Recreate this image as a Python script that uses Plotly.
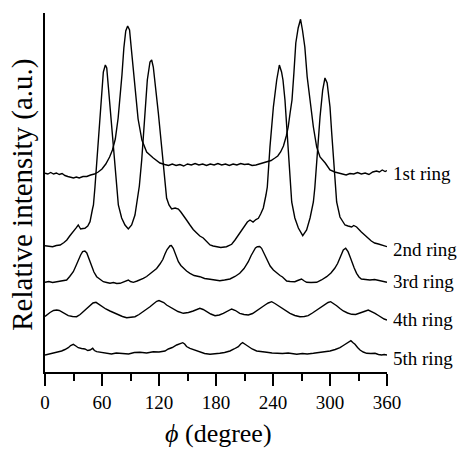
import plotly.graph_objects as go

# phi (degree) and relative intensity (a.u.)
ring1_phi = [0, 3, 6, 9, 12, 15, 18, 21, 24, 27, 30, 33, 36, 40, 44, 48, 52, 56, 60, 64, 68, 71, 74, 77, 79, 81, 83, 85, 87, 89, 91, 93, 95, 98, 102, 107, 114, 121, 126, 130, 134, 138, 142, 146, 150, 154, 158, 162, 166, 170, 174, 178, 182, 186, 190, 194, 198, 202, 206, 210, 214, 218, 222, 226, 230, 234, 238, 242, 245, 248, 251, 254, 256, 258, 260, 262, 264, 266.5, 269, 271, 273.5, 276, 279, 282.5, 286, 289.5, 295, 300, 305, 309, 313, 317, 321, 325, 329, 333, 337, 341, 345, 349, 352, 355, 358, 360]
ring1_int = [198.7, 198, 199.5, 198, 199, 197.5, 198.5, 196.5, 195.5, 194.5, 194, 195, 194, 195.5, 195.5, 197, 198, 200, 203, 208, 215, 222, 233, 254, 272, 297, 324, 341, 346, 342, 322, 300, 280, 253, 232, 220, 214, 209, 207.5, 206.5, 208, 206.5, 207.5, 206, 208, 207, 208.5, 207, 208, 206.5, 208, 207, 208.5, 207, 208, 206.5, 208, 207, 208.5, 207.5, 208, 206.5, 207, 208, 209, 210, 211.5, 214, 216, 220, 226, 236, 245, 259, 272, 299, 329, 344, 352.7, 342, 325, 295, 269, 245, 225, 215, 209, 202, 200, 199, 197.5, 197, 198.5, 198, 199.5, 198, 199, 197.5, 200, 201, 200, 202, 200.5, 201.5]

ring2_phi = [0, 4, 8, 12, 16, 20, 23, 26, 30, 33, 35, 37.5, 40, 42, 45, 47.4, 50, 51, 52.6, 54.4, 57, 59.6, 61.4, 63.5, 65, 66.7, 69, 71.2, 73.7, 75.4, 77.2, 80.7, 84.2, 87.7, 91.2, 94.7, 97.5, 99.3, 101.8, 105.3, 107.7, 110.5, 112.3, 114, 116.8, 119.3, 122.8, 126.3, 128, 130.5, 133.3, 137, 140.4, 143, 145.6, 149, 152.6, 156, 159.7, 163, 166.6, 170, 173.7, 177, 180.7, 185, 191, 196.5, 200, 203.5, 207, 210.5, 213, 215.8, 219, 222, 224.6, 227, 229.8, 232.6, 234, 236.8, 240.4, 243.9, 246.7, 249, 250.5, 252.6, 255, 257, 258.5, 259.7, 263, 266.7, 271.3, 275.4, 279, 282.5, 284, 286.7, 289.5, 292.3, 294.7, 297, 300, 301.8, 304, 305.5, 307, 310.5, 315.8, 319, 322.8, 325, 328, 333, 336, 340, 343.5, 347, 351, 354.4, 357, 360]
ring2_int = [126.3, 125.5, 125.3, 126.5, 127, 129.5, 132, 136, 140.3, 144.3, 147, 143, 143.5, 143.7, 146, 150.3, 163, 167, 185, 209, 245, 279, 300, 307, 304, 285, 259, 232, 199, 185, 167, 154, 147, 143, 147, 157, 174, 186, 212, 262, 292, 310, 312, 305, 282, 259, 225, 192, 174, 167, 163, 164, 163, 160, 157, 152, 147, 142.5, 139, 136, 134, 130.5, 127, 126, 125.3, 124.5, 125.3, 127.7, 132, 137, 142, 147, 150, 152, 150, 152.5, 153.7, 158, 164, 177, 185, 225, 265, 292, 307, 300, 292, 272, 239, 205, 185, 170, 154, 144, 136.3, 142, 154, 170, 184, 222, 255, 282, 294, 289, 265, 239, 205, 185, 170, 155, 147, 146, 145, 146.5, 145, 140, 137, 134, 131, 129, 128, 127, 125.5, 125.3]

ring3_phi = [0, 4, 8, 12.3, 16, 20, 22.8, 26, 29.8, 32.5, 35, 37.5, 39.6, 42, 44, 45.6, 47.5, 49.1, 51.5, 54.4, 58, 61.4, 65, 68.4, 72, 75.5, 79, 83, 87.7, 90, 93, 97, 100, 103.5, 107, 110.5, 114, 117.5, 121, 124, 126.3, 128.5, 131.6, 133, 135, 137.5, 140.4, 143, 145.6, 149, 152.6, 157, 163, 168, 173.7, 179, 184, 189, 194.7, 200, 205, 209.5, 214, 217, 219, 221.5, 223.5, 226, 228, 230.5, 233.4, 237, 240.4, 244, 247.4, 250, 254.4, 258, 263, 266, 270, 273, 275.4, 280, 286, 291, 296.5, 301, 305, 308, 310.5, 312.5, 314, 316.5, 319, 321, 322.8, 325.5, 328, 330.5, 333, 337, 342, 347, 352.6, 356, 360]
ring3_int = [89.7, 90.5, 89.5, 90.3, 90.5, 91.5, 92, 95.5, 100.3, 106, 112, 117, 120.3, 121, 119, 115.3, 110, 105.3, 100, 95.3, 92.5, 90.3, 89.5, 88.7, 89.5, 88.5, 88.7, 90, 92, 90.5, 89.7, 91, 92, 93.7, 95.5, 98, 100.3, 103.5, 108, 112.5, 118, 122.5, 126.3, 126.5, 123.7, 118, 110.3, 106.5, 103.7, 101, 98.7, 96.5, 95.3, 93.5, 92.7, 92, 91.3, 92, 93, 95.5, 98.7, 103.5, 110.3, 116.5, 120.3, 124, 125.3, 125.5, 123.7, 118.5, 112, 106, 102, 99, 96.5, 95, 91, 90.5, 90.3, 91.5, 93, 91, 89.7, 89.5, 89.7, 92, 95.3, 99, 103.7, 108.5, 113.7, 118, 122, 123.7, 120.3, 115.5, 110.3, 104, 98.7, 95, 93, 92.5, 92, 92.5, 91, 90.5, 89.7]

ring4_phi = [0, 2.5, 5.3, 9, 12.3, 15, 17.5, 21, 24.5, 29, 33.3, 37, 40.4, 44, 47.4, 50.5, 53.7, 56.5, 59.6, 64, 68.4, 73, 77.2, 81.5, 86, 90.5, 94.7, 99, 103.5, 107, 110.5, 114, 117.6, 120, 122.8, 125, 128, 131.5, 135, 140, 145.6, 151, 156, 160, 163, 166.5, 170, 174.5, 179, 183.5, 187.7, 192, 196.5, 200.5, 205, 209.5, 214, 218.5, 222.8, 227, 231.6, 235, 238.6, 242, 245.6, 249, 252.6, 257.9, 263, 268.4, 273, 277, 281.5, 286, 290.5, 294.7, 298, 300.7, 304, 307, 310.5, 314, 318.5, 322.8, 327, 331.6, 336, 340.3, 344, 347.4, 351, 354.4, 357, 360]
ring4_int = [55.5, 57.5, 59.5, 61.5, 62, 61.5, 60.3, 58.5, 56.3, 55.5, 55.3, 57.5, 60.3, 63.5, 67, 69, 69.7, 68, 65.3, 63, 61, 59, 57, 55.5, 54.3, 54.5, 55.3, 57.5, 60.3, 63, 65.3, 68, 70.7, 71.5, 70.5, 69.5, 67, 65, 63, 60.5, 58.7, 59.5, 61, 63, 63.7, 62.5, 60.3, 58, 56.3, 57, 58.7, 61, 63, 61.5, 58.7, 57.5, 57, 58.5, 61, 63.5, 67, 69, 70.3, 68.5, 66.3, 64, 62, 58.7, 56.5, 55.3, 55.5, 56.3, 59, 62, 64.5, 67, 69.5, 70.3, 68.5, 66.3, 63.5, 61, 59, 57.7, 57.5, 58.7, 60.5, 62, 60.5, 58.7, 56.5, 54.3, 53, 52]

ring5_phi = [0, 4, 8.8, 13, 17.5, 21, 24.5, 27, 29.8, 32.5, 35, 38.5, 42, 45, 47.4, 50.2, 52, 54.4, 59, 65, 70, 75, 82.5, 88, 94, 100, 107, 114, 120, 126.3, 129.8, 134, 138.6, 142, 145, 147, 149, 152.6, 157, 163, 168, 173.7, 179, 184, 189, 194.7, 199, 203.5, 206, 208, 211, 214, 218, 222.8, 228, 233.4, 239, 243.9, 250, 256, 261, 265, 271, 276, 282.5, 288, 294, 300, 305.5, 310.5, 314, 317.6, 320, 322, 324, 326.3, 329, 331.6, 335, 338.6, 343, 347.4, 351, 354.4, 357, 360]
ring5_int = [17, 18, 18.7, 19.5, 21, 22.5, 24.3, 26.5, 27.7, 26, 24.3, 23.5, 23, 21.5, 22, 23.7, 21.5, 20.3, 19.5, 18.7, 18, 19, 18.7, 18, 19.5, 19.7, 19, 20.3, 20, 21, 23, 24.5, 27, 28, 29.3, 28, 25.5, 23.7, 22, 20.3, 18.5, 17.7, 18, 18.7, 19.5, 21, 23, 25.3, 28, 29.3, 27.5, 25.3, 23, 21, 20, 19.7, 19, 18.7, 18.5, 19, 18, 17.7, 18.5, 18, 18.7, 19.5, 20, 21, 22.5, 24.3, 26.5, 28.7, 30.5, 31.3, 29.5, 27.7, 24.5, 22, 20, 18.7, 18.5, 18.7, 17.5, 17, 17.5, 17]

ring_names = ["1st ring", "2nd ring", "3rd ring", "4th ring", "5th ring"]
label_levels = [199, 122.5, 91, 53, 14]

x_ticks = [0, 60, 120, 180, 240, 300, 360]

SERIF = "Liberation Serif, Times New Roman, serif"

fig = go.Figure()
series = [(ring1_phi, ring1_int), (ring2_phi, ring2_int), (ring3_phi, ring3_int),
          (ring4_phi, ring4_int), (ring5_phi, ring5_int)]
for (px_, py_), name in zip(series, ring_names):
    fig.add_trace(go.Scatter(x=px_, y=py_, mode="lines", name=name,
                             line=dict(color="black", width=1.4), showlegend=False,
                             hoverinfo="skip"))

for name, lvl in zip(ring_names, label_levels):
    fig.add_annotation(x=360, y=lvl, xref="x", yref="y", text=name, showarrow=False,
                       xanchor="left", yanchor="middle", xshift=4,
                       font=dict(family=SERIF, size=19, color="black"))

fig.add_annotation(x=0.506, y=-0.17, xref="paper", yref="paper",
                   text="<i>ϕ</i> (degree)", showarrow=False,
                   xanchor="center", yanchor="middle",
                   font=dict(family=SERIF, size=26, color="black"))
fig.add_annotation(x=-0.064, y=0.494, xref="paper", yref="paper",
                   text="Relative intensity (a.u.)", showarrow=False, textangle=-90,
                   xanchor="center", yanchor="middle",
                   font=dict(family=SERIF, size=29, color="black"))

fig.update_xaxes(range=[0, 360], tickvals=x_ticks, ticktext=[str(v) for v in x_ticks],
                 ticks="outside", ticklen=12, tickwidth=1.5, tickcolor="black",
                 minor=dict(dtick=30, ticks="outside", ticklen=7, tickwidth=1.5, tickcolor="black"),
                 showline=True, linecolor="black", linewidth=2, showgrid=False, zeroline=False,
                 tickfont=dict(family=SERIF, size=19, color="black"))
fig.update_yaxes(range=[0, 359], showline=True, linecolor="black", linewidth=2,
                 showticklabels=False, ticks="", showgrid=False, zeroline=False)

fig.update_layout(width=461, height=450, margin=dict(l=45, r=74, t=13, b=78),
                  paper_bgcolor="white", plot_bgcolor="white")

fig.write_html("out.html")
